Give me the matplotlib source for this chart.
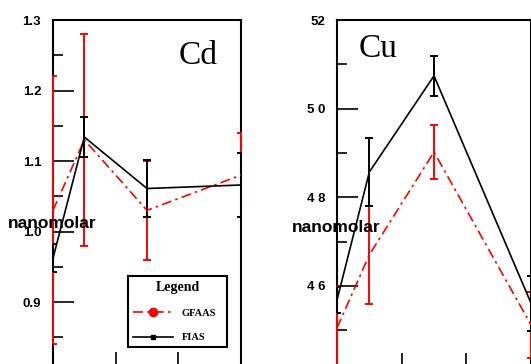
"""Cd and Cu concentrations, GFAAS vs FIAS."""
import matplotlib
matplotlib.use("Agg")
import matplotlib.pyplot as plt
from matplotlib.lines import Line2D

# sampling positions (same for both metals)
x_pos = [0, 0.5, 1.5, 3]

# Cd (nanomolar)
cd_gfaas = [1.03, 1.13, 1.03, 1.08]
cd_gfaas_err = [0.19, 0.15, 0.07, 0.06]
cd_fias = [0.962, 1.134, 1.061, 1.066]
cd_fias_err = [0.02, 0.028, 0.04, 0.046]

# Cu (nanomolar)
cu_gfaas = [45.05, 46.7, 49.02, 45.12]
cu_gfaas_err = [0.95, 1.1, 0.62, 0.75]
cu_fias = [45.68, 48.57, 50.74, 45.61]
cu_fias_err = [0.3, 0.77, 0.45, 0.62]

cd_ticks = [0.9, 1.0, 1.1, 1.2, 1.3]
cd_tick_labels = ["0.9", "1.0", "1.1", "1.2", "1.3"]
cu_ticks = [46, 48, 50, 52]
cu_tick_labels = ["4 6", "4 8", "5 0", "52"]
x_ticks = [0, 1, 2, 3]

RED_DASH = (0, (6, 2.5, 1.5, 2.5))

fig = plt.figure(figsize=(5.31, 3.64), dpi=100)
ax_cd = fig.add_axes([0.0998, -0.0234, 0.3541, 0.9684])
ax_cu = fig.add_axes([0.6347, -0.0286, 0.3653, 0.9736])


def draw_panel(ax, gf, gf_err, fi, fi_err, ylim, ticks, labels, minor):
    for y, err, color, ls in ((gf, gf_err, "red", RED_DASH),
                              (fi, fi_err, "black", "-")):
        eb = ax.errorbar(x_pos, y, yerr=err, color=color, lw=1.2, ls=ls,
                         elinewidth=1.4, capsize=3, capthick=1.4, zorder=3)
        for col in eb[2]:
            col.set_clip_on(False)  # bars on the spine stay visible
    ax.set_xlim(0, 3)
    ax.set_ylim(*ylim)
    ax.set_xticks(x_ticks, [""] * len(x_ticks))
    ax.set_yticks(ticks, labels)
    ax.set_yticks(minor, minor=True)
    ax.tick_params(axis="both", which="major", direction="in", length=15,
                   width=1.2, pad=8.5, labelsize=9.5)
    ax.tick_params(axis="both", which="minor", direction="in", length=7,
                   width=1.2)
    for lab in ax.get_yticklabels():
        lab.set_fontweight("bold")
        lab.set_family("Liberation Sans")
    for sp in ax.spines.values():
        sp.set_linewidth(1.5)


draw_panel(ax_cd, cd_gfaas, cd_gfaas_err, cd_fias, cd_fias_err,
           (0.8, 1.3), cd_ticks, cd_tick_labels, [0.85, 0.95, 1.05, 1.15, 1.25])
draw_panel(ax_cu, cu_gfaas, cu_gfaas_err, cu_fias, cu_fias_err,
           (44, 52), cu_ticks, cu_tick_labels, [45, 47, 49, 51])

ax_cd.text(0.774, 0.90, "Cd", transform=ax_cd.transAxes, ha="center",
           va="center", fontsize=24, family="Liberation Serif")
ax_cu.text(0.209, 0.918, "Cu", transform=ax_cu.transAxes, ha="center",
           va="center", fontsize=24, family="Liberation Serif")

fig.text(8 / 531, 1 - 223 / 364, "nanomolar", ha="left", va="center",
         fontsize=12.5, fontweight="bold", family="Liberation Sans")
fig.text(292 / 531, 1 - 228 / 364, "nanomolar", ha="left", va="center",
         fontsize=12.5, fontweight="bold", family="Liberation Sans")

handles = [
    Line2D([], [], color="red", ls=RED_DASH, lw=1.2, marker="o",
           markersize=6),
    Line2D([], [], color="black", lw=1.2, marker="s", markersize=3),
]
leg = ax_cd.legend(handles, ["GFAAS", "FIAS"], title="Legend", numpoints=1,
                   loc="upper left", bbox_to_anchor=(0.399, 0.0, 0.527, 0.274),
                   mode="expand",
                   borderaxespad=0, frameon=True, fancybox=False,
                   edgecolor="black", framealpha=1, labelspacing=1.45,
                   handlelength=3.9, handletextpad=0.8, borderpad=0.45,
                   prop={"family": "Liberation Serif", "size": 7.5,
                         "weight": "bold"})
leg.get_frame().set_linewidth(1.5)
leg.get_title().set_fontweight("bold")
leg.get_title().set_family("Liberation Serif")
leg.get_title().set_fontsize(10)

fig.savefig("out.png", dpi=100)
